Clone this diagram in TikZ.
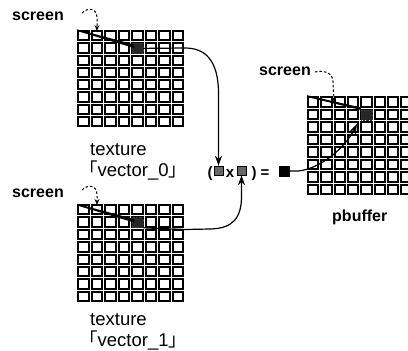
\documentclass[tikz,border=0pt]{standalone}
\usepackage{fontspec}
\setmainfont{Liberation Sans}
\newfontfamily\cjk{Noto Sans CJK JP}
\usetikzlibrary{arrows.meta}
\newcommand\cellgrid[4]{%
  \foreach \i in {0,...,7}{\foreach \j in {0,...,7}{%
    \pgfmathtruncatemacro\xa{round(#1+\i*#3)}%
    \pgfmathtruncatemacro\xb{round(#1+(\i+1)*#3)}%
    \pgfmathtruncatemacro\ya{round(#2+\j*#4)}%
    \pgfmathtruncatemacro\yb{round(#2+(\j+1)*#4)}%
    \draw[cellbox] (\xa+2,\ya+2) rectangle (\xb-1,\yb-1);}}}
\begin{document}
\begin{tikzpicture}[x=1pt,y=-1pt,
  cellbox/.style={draw=black,line width=2pt},
  darkcell/.style={draw=black!80,densely dotted,fill=black!85,minimum width=11pt,minimum height=10pt,inner sep=0pt},
  hatchsq/.style={draw=black,fill=black!60,minimum size=9pt,inner sep=0pt},
  blksq/.style={fill=black,minimum size=11pt,inner sep=0pt},
  lbl/.style={font=\bfseries\fontsize{16}{17}\selectfont,inner sep=0pt,anchor=base west},
  texlbl/.style={font=\fontsize{18.5}{20}\selectfont,inner sep=0pt,anchor=base west},
  expr/.style={font=\bfseries\fontsize{15}{16}\selectfont,inner sep=0pt,anchor=base},
  conn/.style={line width=1.2pt,-{Stealth[length=10pt,width=7pt]}},
  dashconn/.style={line width=1pt,dash pattern=on 2.5pt off 2pt,-{Stealth[length=6pt,width=5pt]}},
  wedge/.style={fill=black}]
\useasboundingbox (0,0) rectangle (408,351);
\clip (0,0) rectangle (408,351);
% grids
\cellgrid{76}{29}{13.5}{12.25}
\cellgrid{76}{203}{13.5}{12.4}
\cellgrid{306}{95}{13.3}{12.5}
% dark cells
\node[darkcell] (d0) at (137.75,48.4) {};
\node[darkcell] (d1) at (137.75,222.6) {};
\node[darkcell] (d2) at (366.8,114.8) {};
% wedges (screen lines)
\fill[wedge] (77,29.3) -- (134,44.5) -- (134,48) -- (77,31) -- cycle;
\fill[wedge] (77,203.8) -- (134,219) -- (134,222.5) -- (77,205.5) -- cycle;
\fill[wedge] (307,95.2) -- (361,107.5) -- (361,110) -- (307,97) -- cycle;
% labels
\node[lbl] (s0) at (12,20) {screen};
\node[lbl] (s1) at (12,197) {screen};
\node[lbl] (s2) at (259,75) {screen};
\node[lbl] (pb) at (332,221) {pbuffer};
\node[texlbl] (t0) at (90,155) {texture};
\node[texlbl] (v0) at (79,176) {{\cjk 「}vector\_0{\cjk 」}};
\node[texlbl] (t1) at (90,325) {texture};
\node[texlbl] (v1) at (79,346) {{\cjk 「}vector\_1{\cjk 」}};
% expression
\node[expr] (lp) at (210,177) {(};
\node[hatchsq] (q0) at (218.5,170.5) {};
\node[expr] (times) at (230,177) {x};
\node[hatchsq] (q1) at (241.5,170.5) {};
\node[expr] (rp) at (254,177) {)};
\node[expr] (eq) at (265,177) {=};
\node[blksq] (blk) at (284,171) {};
% connectors
\draw[conn] (d0.east) -- (185,48) .. controls (205,48) and (218,60) .. (218.5,92) -- (q0.north);
\draw[line width=1.2pt] (d1.south east) -- (185,229.5) -- (210,229);
\draw[conn] (210,229) .. controls (233,228.5) and (241.5,218) .. (241.5,196) -- (q1.south);
\draw[conn] (blk.east) -- (298,171) .. controls (320,169) and (345,148) .. (357,124);
% screen arrows
\coordinate (a0) at (82,13);
\coordinate (a1) at (82,190);
\coordinate (a2) at (315,72);
\draw[dashconn] (a0) .. controls (88,7) and (97,8) .. (97,18) -- (97,31);
\draw[dashconn] (a1) .. controls (88,184) and (97,185) .. (97,195) -- (97,205);
\draw[dashconn] (a2) .. controls (325,70) and (333,73) .. (333,82) -- (334,102);
\end{tikzpicture}
\end{document}
